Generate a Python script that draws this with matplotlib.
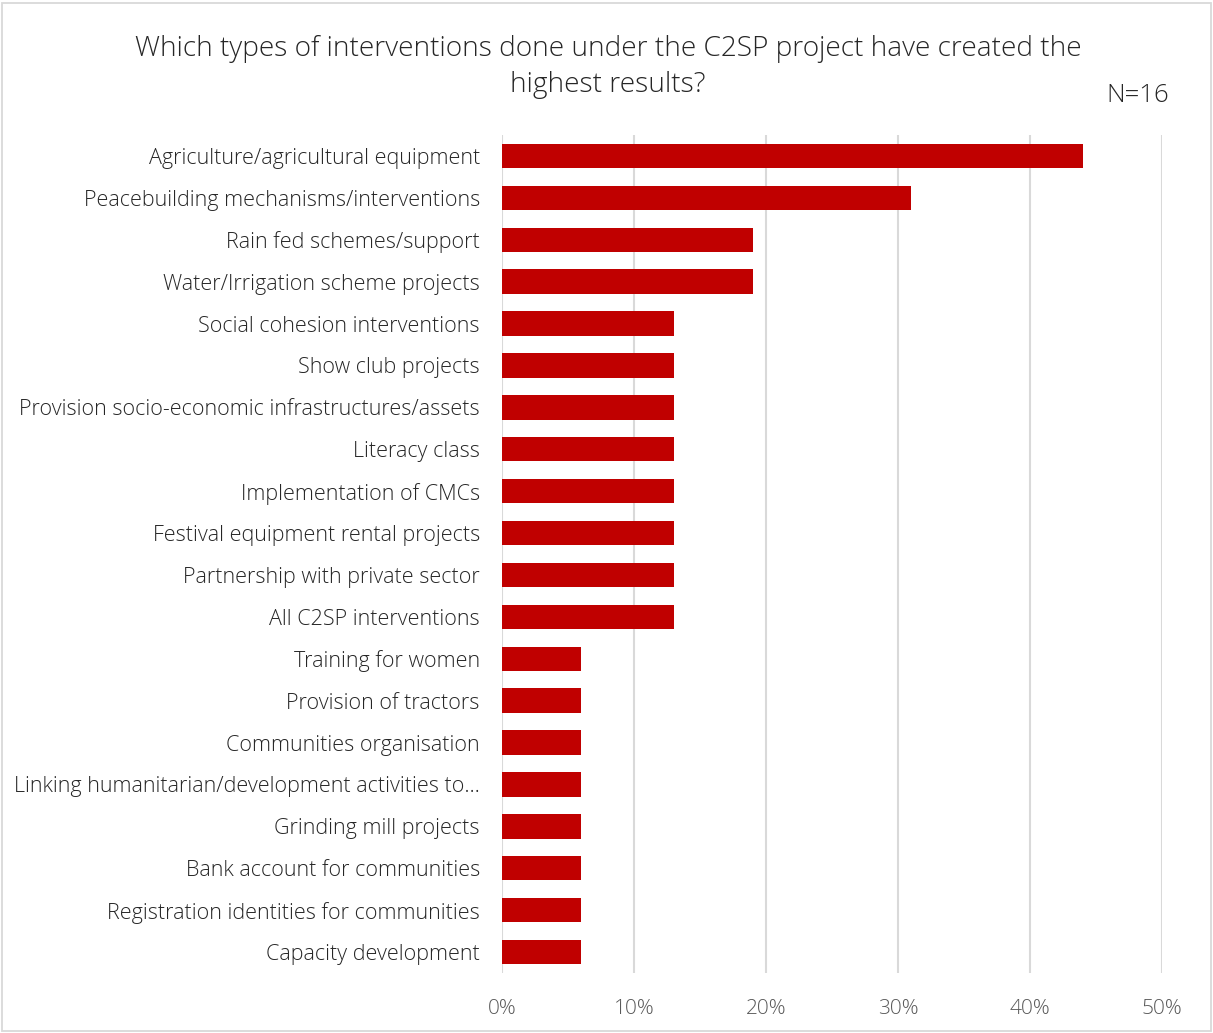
import matplotlib
matplotlib.use("Agg")
import matplotlib.pyplot as plt
from matplotlib.patches import Rectangle

categories = [
    "Agriculture/agricultural equipment",
    "Peacebuilding mechanisms/interventions",
    "Rain fed schemes/support",
    "Water/Irrigation scheme projects",
    "Social cohesion interventions",
    "Show club projects",
    "Provision socio-economic infrastructures/assets",
    "Literacy class",
    "Implementation of CMCs",
    "Festival equipment rental projects",
    "Partnership with private sector",
    "All C2SP interventions",
    "Training for women",
    "Provision of tractors",
    "Communities organisation",
    "Linking humanitarian/development activities to…",
    "Grinding mill projects",
    "Bank account for communities",
    "Registration identities for communities",
    "Capacity development",
]
values = [44, 31, 19, 19, 13, 13, 13, 13, 13, 13, 13, 13, 6, 6, 6, 6, 6, 6, 6, 6]
x_ticks = [0, 10, 20, 30, 40, 50]
x_tick_labels = ["0%", "10%", "20%", "30%", "40%", "50%"]

title = "Which types of interventions done under the C2SP project have created the\nhighest results?"
sample_note = "N=16"

plt.rcParams["font.family"] = ["Open Sans", "DejaVu Sans"]

W, H = 1213, 1033
fig = plt.figure(figsize=(W / 100, H / 100), dpi=100)
fig.patch.set_facecolor("white")

# light outer frame
fig.add_artist(Rectangle((2 / W, 2 / H), (W - 4) / W, (H - 5) / H,
                         transform=fig.transFigure, fill=False,
                         edgecolor="#d9d9d9", linewidth=1.3))

ax = fig.add_axes([502 / W, 1 - 973 / H, 660 / W, (973 - 135) / H])

y = list(range(len(categories)))
ax.barh(y, values, height=0.58, color="#C00000", zorder=3)
ax.set_ylim(len(categories) - 0.5, -0.5)
ax.set_xlim(0, 50)

ax.set_xticks(x_ticks)
ax.set_xticklabels(x_tick_labels, fontsize=15, color="#595959", fontweight="light")
ax.set_yticks(y)
ax.set_yticklabels(categories, fontsize=15.5, color="#262626", fontweight="light")
ax.tick_params(axis="y", length=0, pad=16)
ax.tick_params(axis="x", length=0, pad=19)

ax.grid(axis="x", color="#d9d9d9", linewidth=1.5, zorder=0)
for s in ax.spines.values():
    s.set_visible(False)

fig.text(608 / W, 1 - 67 / H, title, ha="center", va="center", fontsize=20.2,
         color="#262626", fontweight="light", linespacing=1.35)
fig.text(1138 / W, 1 - 96 / H, sample_note, ha="center", va="center",
         fontsize=18.5, color="#262626", fontweight="light")

fig.savefig("out.png", dpi=100, facecolor="white")
